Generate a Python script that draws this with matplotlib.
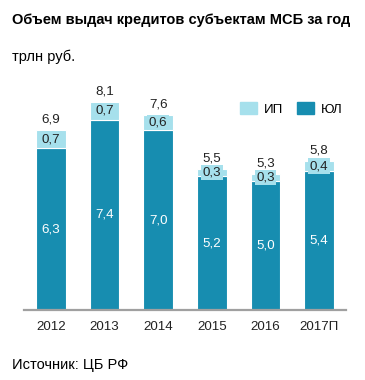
import matplotlib
matplotlib.use("Agg")
import matplotlib.pyplot as plt
from matplotlib.patches import Patch

plt.rcParams['font.family'] = ['Liberation Sans', 'DejaVu Sans']

years = ["2012", "2013", "2014", "2015", "2016", "2017П"]
ul = [6.3, 7.4, 7.0, 5.2, 5.0, 5.4]
ip = [0.7, 0.7, 0.6, 0.3, 0.3, 0.4]
totals = ["6,9", "8,1", "7,6", "5,5", "5,3", "5,8"]

c_ul = "#178db0"
c_ip = "#a6e0ec"

W, H = 365, 380
fig = plt.figure(figsize=(W / 100, H / 100), dpi=100)
ax = fig.add_axes([24 / W, 70 / H, 322 / W, 220 / H])

x = list(range(len(years)))
ax.bar(x, ul, width=0.55, color=c_ul, edgecolor="white", linewidth=0.8, label="ЮЛ")
ax.bar(x, ip, bottom=ul, width=0.55, color=c_ip, edgecolor="white", linewidth=0.8, label="ИП")

fmt = lambda v: f"{v:.1f}".replace(".", ",")
fs = 9.6
for i in x:
    ax.text(i, ul[i] / 2, fmt(ul[i]), ha="center", va="center", color="white", fontsize=fs)
    ax.text(i, ul[i] + ip[i] / 2, fmt(ip[i]), ha="center", va="center", color="#222222",
            fontsize=fs, bbox=dict(boxstyle="square,pad=0.12", fc=c_ip, ec="none"))
    ax.annotate(totals[i], (i, ul[i] + ip[i]), xytext=(0, 3), textcoords="offset points",
                ha="center", va="bottom", fontsize=fs, color="#222222")

ax.set_xlim(-0.5, 5.5)
ax.set_ylim(0, 8.56)
ax.set_xticks(x)
ax.set_xticklabels(years, fontsize=fs, color="#222222")
ax.tick_params(axis="x", length=0, pad=8)
ax.set_yticks([])
for s in ["top", "right", "left"]:
    ax.spines[s].set_visible(False)
ax.spines["bottom"].set_color("#a0a0a0")
ax.spines["bottom"].set_linewidth(1.6)

handles = [Patch(color=c_ip, label="ИП"), Patch(color=c_ul, label="ЮЛ")]
fig.legend(handles=handles, ncol=2, frameon=False, fontsize=fs,
           loc="center left", bbox_to_anchor=(228 / W, 1 - 109 / H),
           handlelength=1.3, handleheight=1.0, handletextpad=0.5, columnspacing=1.0)

fig.text(12 / W, 1 - 20 / H, "Объем выдач кредитов субъектам МСБ за год",
         fontsize=10.5, fontweight="bold", va="center", ha="left")
fig.text(12 / W, 1 - 57 / H, "трлн руб.", fontsize=10.5, va="center", ha="left")
fig.text(12 / W, 1 - 365 / H, "Источник: ЦБ РФ", fontsize=10.5, va="center", ha="left")

fig.savefig("out.png", dpi=100)
